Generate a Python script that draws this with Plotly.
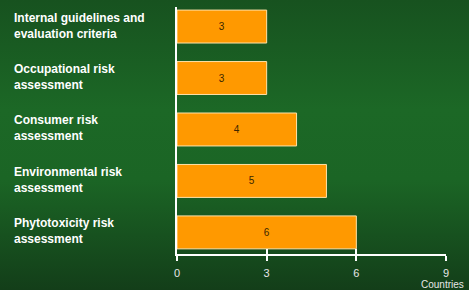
import base64
import plotly.graph_objects as go

categories = [
    "Internal guidelines and<br>evaluation criteria",
    "Occupational risk<br>assessment",
    "Consumer risk<br>assessment",
    "Environmental risk<br>assessment",
    "Phytotoxicity risk<br>assessment",
]
values = [3, 3, 4, 5, 6]
x_ticks = [0, 3, 6, 9]

W, H = 469, 290
L, R, T, B = 177, 23, 7, 36
pw, ph = W - L - R, H - T - B

svg = f'''<svg xmlns="http://www.w3.org/2000/svg" width="{W}" height="{H}" preserveAspectRatio="none">
<defs><linearGradient id="g" x1="0" y1="0" x2="0" y2="1">
<stop offset="0" stop-color="#17521f"/>
<stop offset="0.38" stop-color="#1c6826"/>
<stop offset="0.62" stop-color="#1b6525"/>
<stop offset="1" stop-color="#133e19"/>
</linearGradient></defs>
<rect width="{W}" height="{H}" fill="url(#g)"/></svg>'''
src = "data:image/svg+xml;base64," + base64.b64encode(svg.encode()).decode()

idx = list(range(len(categories)))

fig = go.Figure()
fig.add_trace(go.Bar(
    x=values, y=idx, orientation="h",
    marker=dict(color="#ff9900", line=dict(color="#ffe2a8", width=1)),
    text=[str(v) for v in values], textposition="inside", insidetextanchor="middle",
    textfont=dict(family="Liberation Sans, Arial", size=10, color="#3a2600"),
    hoverinfo="skip",
))
fig.add_trace(go.Scatter(x=[], y=[], xaxis="x2", yaxis="y", showlegend=False))

fig.update_layout(
    width=W, height=H,
    margin=dict(l=L, r=R, t=T, b=B),
    paper_bgcolor="#1a5e23",
    plot_bgcolor="rgba(0,0,0,0)",
    bargap=0.36,
    showlegend=False,
    font=dict(family="Liberation Sans, Arial", color="#e6e6e6"),
    images=[dict(source=src, xref="paper", yref="paper",
                 x=-L / pw, y=1 + T / ph, sizex=W / pw, sizey=H / ph,
                 xanchor="left", yanchor="top", sizing="stretch", layer="below")],
    xaxis=dict(range=[0, 9], tickvals=x_ticks, ticktext=[str(t) for t in x_ticks],
               showgrid=False, zeroline=False, showline=True, linecolor="#ffffff", linewidth=1.5,
               ticks="outside", ticklen=5, tickwidth=1.5, tickcolor="#ffffff",
               ticklabelstandoff=3,
               tickfont=dict(size=11, color="#e6e6e6"), fixedrange=True),
    xaxis2=dict(overlaying="x", matches="x", anchor="y", side="bottom", range=[0, 9],
                tickvals=x_ticks, showticklabels=False, showgrid=False, zeroline=False,
                showline=False, ticks="inside", ticklen=5, tickwidth=1.5, tickcolor="#ffffff"),
    yaxis=dict(range=[4.42, -0.38], showticklabels=False, showgrid=False, zeroline=False,
               showline=True, linecolor="#ffffff", linewidth=1.5, ticks=""),
)

for i, c in enumerate(categories):
    fig.add_annotation(text=c, xref="paper", yref="y", x=(12 - L) / pw, y=i,
                       xanchor="left", yanchor="middle", align="left", showarrow=False,
                       yshift=1,
                       font=dict(family="Liberation Sans, Arial", size=12, color="#ffffff",
                                 weight="bold"))

fig.add_annotation(text="Countries", xref="paper", yref="paper", x=(466 - L) / pw,
                   y=-(284 - T - ph) / ph, xanchor="right", yanchor="middle", showarrow=False,
                   font=dict(family="Liberation Sans, Arial", size=10, color="#e6e6e6"))

fig.write_html("out.html", config={"displayModeBar": False},
               post_script="document.body.style.margin='0';document.body.style.overflow='hidden';")
